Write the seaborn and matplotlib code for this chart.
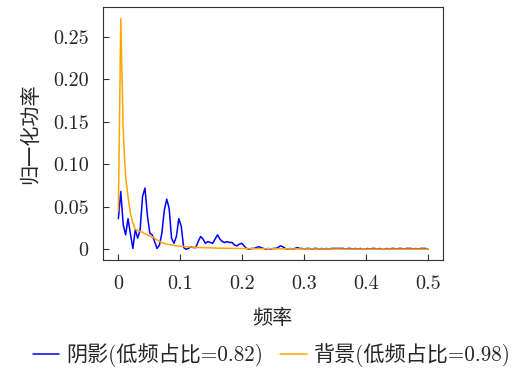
import matplotlib
matplotlib.use("Agg")
import matplotlib.pyplot as plt
import pandas as pd
import seaborn as sns
import numpy as np

sns.set_style("ticks")
plt.rcParams['font.family'] = ['cmr10', 'Noto Sans CJK SC', 'DejaVu Sans']
plt.rcParams['axes.formatter.use_mathtext'] = True
plt.rcParams['xtick.direction'] = 'in'
plt.rcParams['ytick.direction'] = 'in'

# frequency bins: 0 .. 0.5 in steps of 1/256 (129 bins)
freq = np.arange(129) / 256.0

shadow = [
    0.036, 0.068, 0.029, 0.017, 0.036, 0.018, 0.001, 0.023, 0.013, 0.023,
    0.062, 0.072, 0.040, 0.019, 0.017, 0.009, 0.001, 0.005, 0.019, 0.046,
    0.059, 0.048, 0.013, 0.007, 0.015, 0.036, 0.027, 0.002, 0.000, 0.001,
    0.003, 0.002, 0.002, 0.009, 0.015, 0.012, 0.007, 0.009, 0.008, 0.007,
    0.012, 0.017, 0.012, 0.009, 0.008, 0.009, 0.008, 0.008, 0.005, 0.004,
    0.006, 0.007, 0.004, 0.001, 0.000, 0.001, 0.001, 0.002, 0.003, 0.002,
    0.001, 0.000, 0.001, 0.000, 0.001, 0.001, 0.002, 0.004, 0.003, 0.001,
    0.000, 0.001, 0.000, 0.001, 0.002, 0.001, 0.001, 0.000, 0.001, 0.001,
    0.000, 0.001, 0.001, 0.000, 0.001, 0.000, 0.001, 0.000, 0.001, 0.001,
    0.001, 0.001, 0.001, 0.001, 0.000, 0.001, 0.001, 0.000, 0.001, 0.000,
    0.001, 0.000, 0.000, 0.001, 0.000, 0.001, 0.001, 0.000, 0.001, 0.000,
    0.000, 0.001, 0.000, 0.001, 0.001, 0.000, 0.001, 0.001, 0.000, 0.001,
    0.001, 0.001, 0.000, 0.001, 0.000, 0.001, 0.001, 0.001, 0.000,
]

background = [
    0.045, 0.271, 0.140, 0.085, 0.062, 0.042, 0.031, 0.0235, 0.022, 0.021,
    0.020, 0.018, 0.017, 0.0155, 0.0145, 0.013, 0.011, 0.0095, 0.008, 0.007,
    0.006, 0.0055, 0.005, 0.0045, 0.004, 0.0038, 0.0035, 0.0032, 0.003, 0.0028,
    0.0026, 0.0024, 0.0022, 0.0021, 0.002, 0.0019, 0.0018, 0.0017, 0.0016, 0.0015,
    0.0015, 0.0014, 0.0013, 0.0013, 0.0012, 0.0012, 0.0011, 0.0011, 0.001, 0.001,
    0.001, 0.0009, 0.0009, 0.0009, 0.0008, 0.0008, 0.0008, 0.0007, 0.0007, 0.0007,
    0.0007, 0.0006, 0.0006, 0.0006, 0.0006, 0.0006, 0.0005, 0.0005, 0.0005, 0.0005,
    0.0005, 0.0005, 0.0004, 0.0004, 0.0004, 0.0004, 0.0004, 0.0004, 0.0004, 0.0004,
    0.0003, 0.0003, 0.0003, 0.0003, 0.0003, 0.0003, 0.0003, 0.0003, 0.0003, 0.0003,
    0.0003, 0.0003, 0.0002, 0.0002, 0.0002, 0.0002, 0.0002, 0.0002, 0.0002, 0.0002,
    0.0002, 0.0002, 0.0002, 0.0002, 0.0002, 0.0002, 0.0002, 0.0002, 0.0002, 0.0002,
    0.0002, 0.0002, 0.0002, 0.0002, 0.0002, 0.0002, 0.0002, 0.0002, 0.0002, 0.0002,
    0.0002, 0.0002, 0.0002, 0.0002, 0.0002, 0.0002, 0.0002, 0.0002, 0.0002,
]

labels = ["阴影(低频占比=0.82)", "背景(低频占比=0.98)"]
xticks = [0, 0.1, 0.2, 0.3, 0.4, 0.5]
xticklabels = ["0", "0.1", "0.2", "0.3", "0.4", "0.5"]
yticks = [0, 0.05, 0.10, 0.15, 0.20, 0.25]
yticklabels = ["0", "0.05", "0.10", "0.15", "0.20", "0.25"]

df = pd.DataFrame({
    'freq': np.concatenate([freq, freq]),
    'power': shadow + background,
    'kind': [labels[0]] * len(freq) + [labels[1]] * len(freq),
})

fs = 14.5
fig = plt.figure(figsize=(5.18, 3.69), dpi=100)
ax = fig.add_axes([0.198, 0.2954, 0.658, 0.685])
sns.lineplot(data=df, x='freq', y='power', hue='kind',
             palette=['blue', 'orange'], linewidth=1.1, ax=ax)

ax.set_xlim(-0.0255, 0.525)
ax.set_ylim(-0.0126, 0.2846)
ax.set_xticks(xticks)
ax.set_xticklabels(xticklabels)
ax.set_yticks(yticks)
ax.set_yticklabels(yticklabels)
ax.tick_params(labelsize=fs, length=4, color='#333333')
ax.tick_params(axis='x', pad=11)
ax.tick_params(axis='y', pad=10)
for s in ax.spines.values():
    s.set_color('#333333')
ax.set_xlabel("频率", fontsize=fs)
ax.set_ylabel("归一化功率", fontsize=fs)
ax.xaxis.set_label_coords(0.497, -0.2295)
ax.xaxis.label.set_va('center')
ax.yaxis.set_label_coords(-0.2127, 0.5)
ax.yaxis.label.set_va('center')

sns.move_legend(ax, "center", bbox_to_anchor=(0.497, -0.376), ncol=2,
                frameon=False, title=None, fontsize=15.2, handlelength=1.25,
                columnspacing=0.8, handletextpad=0.35, borderaxespad=0)

fig.savefig("out.png", dpi=100)
